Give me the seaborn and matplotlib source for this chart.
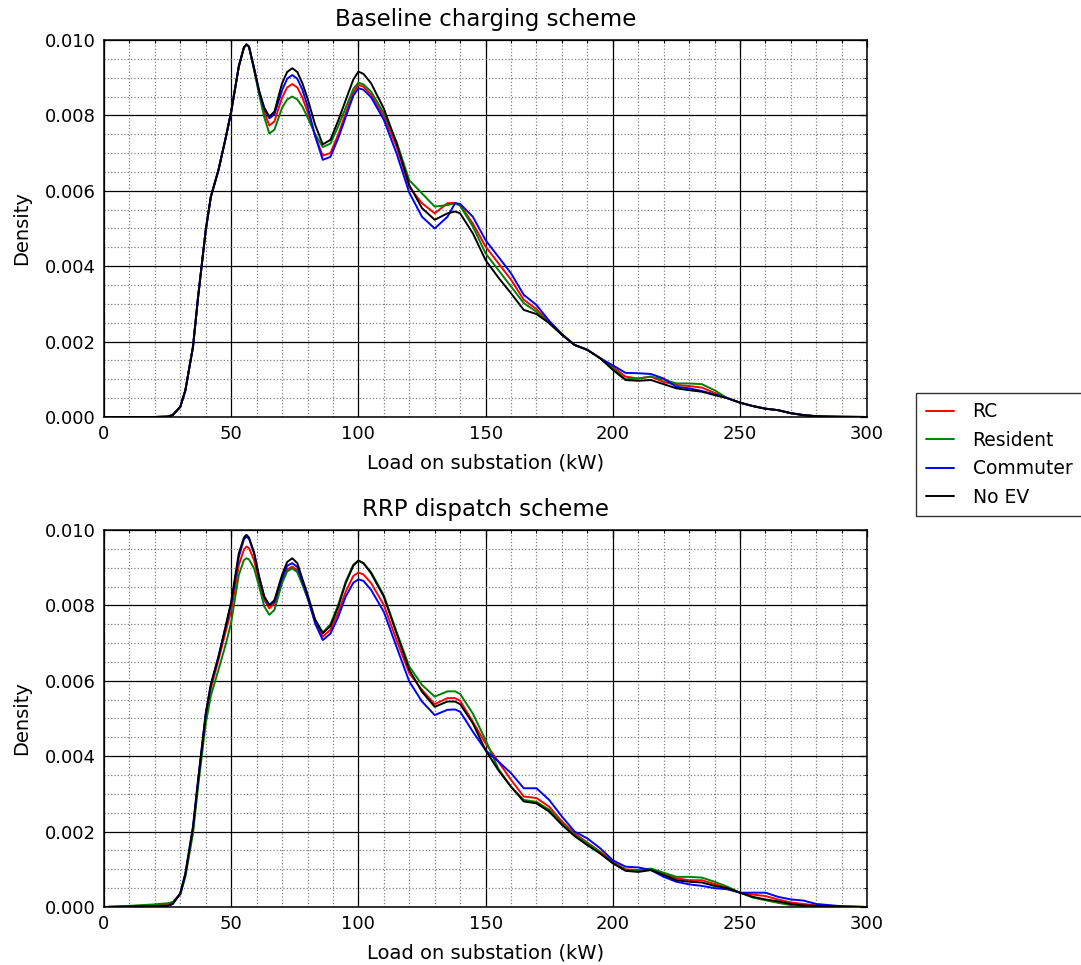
import numpy as np
import pandas as pd
import matplotlib
matplotlib.use("Agg")
import matplotlib.pyplot as plt
import seaborn as sns
from matplotlib.ticker import MultipleLocator, FormatStrFormatter

# --- DATA (densities in units of 1e-3) ---
load_kw = [0, 10, 20, 25, 27, 30, 32, 35, 37, 40, 42, 45, 48, 50, 53, 55, 56, 57, 59, 61,
           63, 65, 67, 70, 72, 74, 76, 78, 80, 83, 86, 89, 92, 95, 98, 100, 102, 105, 110, 115,
           120, 125, 130, 135, 138, 140, 145, 150, 155, 160, 165, 170, 175, 180, 185, 190, 195, 200, 205, 210,
           215, 220, 225, 230, 235, 240, 245, 250, 255, 260, 265, 270, 275, 280, 285, 290, 300]

base_rc = [0, 0, 0, 0.01, 0.05, 0.27, 0.71, 1.87, 3.19, 4.96, 5.84, 6.55, 7.45, 8.10, 9.30, 9.80, 9.88, 9.82, 9.22, 8.60,
           8.08, 7.73, 7.84, 8.47, 8.74, 8.83, 8.74, 8.47, 8.10, 7.45, 6.93, 7.00, 7.48, 8.05, 8.60, 8.81, 8.76, 8.55, 7.98, 7.17,
           6.10, 5.67, 5.40, 5.67, 5.68, 5.62, 5.13, 4.52, 4.08, 3.64, 3.11, 2.86, 2.52, 2.18, 1.91, 1.78, 1.56, 1.33, 1.07, 1.02,
           1.07, 0.93, 0.85, 0.82, 0.78, 0.64, 0.50, 0.38, 0.29, 0.22, 0.18, 0.10, 0.05, 0.02, 0.01, 0.005, 0]
base_resident = [0, 0, 0, 0.01, 0.05, 0.27, 0.71, 1.87, 3.19, 4.96, 5.84, 6.55, 7.45, 8.10, 9.30, 9.80, 9.88, 9.82, 9.20, 8.55,
                 7.95, 7.52, 7.62, 8.20, 8.42, 8.50, 8.42, 8.23, 7.95, 7.50, 7.16, 7.25, 7.70, 8.20, 8.70, 8.87, 8.82, 8.63, 8.06, 7.30,
                 6.28, 5.93, 5.58, 5.62, 5.67, 5.60, 5.05, 4.34, 3.90, 3.46, 3.02, 2.79, 2.49, 2.18, 1.91, 1.78, 1.56, 1.29, 1.00, 1.02,
                 1.07, 0.99, 0.89, 0.89, 0.87, 0.71, 0.50, 0.38, 0.29, 0.22, 0.18, 0.10, 0.05, 0.02, 0.01, 0.005, 0]
base_commuter = [0, 0, 0, 0.01, 0.05, 0.27, 0.71, 1.87, 3.19, 4.96, 5.84, 6.55, 7.45, 8.10, 9.30, 9.80, 9.88, 9.82, 9.25, 8.63,
                 8.17, 7.92, 8.03, 8.67, 8.97, 9.07, 8.97, 8.68, 8.25, 7.45, 6.82, 6.90, 7.38, 7.95, 8.52, 8.72, 8.68, 8.48, 7.88, 6.99,
                 5.95, 5.31, 5.00, 5.31, 5.67, 5.65, 5.31, 4.69, 4.25, 3.81, 3.24, 2.97, 2.55, 2.20, 1.91, 1.78, 1.56, 1.37, 1.17, 1.16,
                 1.14, 1.02, 0.80, 0.76, 0.69, 0.60, 0.50, 0.38, 0.29, 0.22, 0.18, 0.10, 0.05, 0.02, 0.01, 0.005, 0]
base_noev = [0, 0, 0, 0.01, 0.05, 0.27, 0.71, 1.87, 3.19, 4.96, 5.84, 6.55, 7.45, 8.10, 9.30, 9.80, 9.88, 9.82, 9.25, 8.65,
             8.20, 7.97, 8.10, 8.85, 9.15, 9.25, 9.15, 8.85, 8.45, 7.75, 7.23, 7.35, 7.85, 8.40, 8.95, 9.16, 9.10, 8.85, 8.18, 7.26,
             6.15, 5.54, 5.23, 5.40, 5.45, 5.40, 4.87, 4.16, 3.70, 3.28, 2.84, 2.73, 2.49, 2.18, 1.91, 1.78, 1.56, 1.25, 0.98, 0.96,
             0.98, 0.87, 0.76, 0.71, 0.67, 0.58, 0.50, 0.38, 0.29, 0.22, 0.18, 0.10, 0.05, 0.02, 0.01, 0.005, 0]

rrp_rc = [0, 0.02, 0.05, 0.08, 0.12, 0.36, 0.85, 2.05, 3.30, 5.05, 5.80, 6.55, 7.35, 7.85, 9.07, 9.48, 9.56, 9.52, 9.20, 8.63,
          8.14, 7.92, 8.05, 8.63, 8.95, 9.03, 8.93, 8.58, 8.20, 7.58, 7.17, 7.35, 7.80, 8.36, 8.78, 8.87, 8.82, 8.59, 8.01, 7.08,
          6.20, 5.76, 5.38, 5.54, 5.54, 5.47, 4.91, 4.34, 3.86, 3.37, 2.93, 2.89, 2.66, 2.27, 1.95, 1.71, 1.47, 1.20, 1.00, 0.98,
          0.98, 0.87, 0.76, 0.71, 0.71, 0.61, 0.52, 0.38, 0.33, 0.29, 0.20, 0.12, 0.08, 0.04, 0.02, 0.01, 0]
rrp_resident = [0, 0.03, 0.07, 0.10, 0.13, 0.33, 0.80, 1.96, 3.20, 4.87, 5.60, 6.29, 7.00, 7.55, 8.81, 9.20, 9.25, 9.22, 8.98, 8.50,
                7.97, 7.75, 7.88, 8.59, 8.90, 8.98, 8.88, 8.55, 8.20, 7.62, 7.28, 7.50, 8.00, 8.63, 9.08, 9.19, 9.12, 8.88, 8.27, 7.30,
                6.38, 5.89, 5.58, 5.72, 5.72, 5.65, 5.13, 4.43, 3.67, 3.19, 2.84, 2.79, 2.58, 2.22, 1.91, 1.69, 1.45, 1.17, 0.98, 0.98,
                1.02, 0.91, 0.80, 0.80, 0.78, 0.67, 0.54, 0.38, 0.25, 0.18, 0.11, 0.05, 0.03, 0.02, 0.01, 0.01, 0]
rrp_commuter = [0, 0.01, 0.02, 0.03, 0.08, 0.36, 0.89, 2.13, 3.37, 5.13, 5.90, 6.64, 7.48, 8.05, 9.29, 9.75, 9.82, 9.77, 9.38, 8.75,
                8.23, 8.00, 8.10, 8.72, 9.05, 9.12, 9.02, 8.62, 8.22, 7.52, 7.08, 7.25, 7.68, 8.23, 8.60, 8.69, 8.65, 8.41, 7.83, 6.90,
                5.98, 5.45, 5.09, 5.23, 5.24, 5.18, 4.65, 4.16, 3.86, 3.55, 3.15, 3.15, 2.84, 2.40, 2.00, 1.82, 1.56, 1.24, 1.07, 1.05,
                0.98, 0.80, 0.67, 0.60, 0.56, 0.50, 0.47, 0.38, 0.38, 0.38, 0.27, 0.20, 0.17, 0.08, 0.05, 0.02, 0]
rrp_noev = [0, 0.01, 0.02, 0.03, 0.08, 0.36, 0.89, 2.13, 3.37, 5.13, 5.90, 6.64, 7.50, 8.10, 9.38, 9.80, 9.87, 9.80, 9.40, 8.75,
            8.23, 8.01, 8.14, 8.81, 9.15, 9.25, 9.12, 8.70, 8.30, 7.62, 7.26, 7.45, 7.95, 8.59, 9.05, 9.19, 9.12, 8.85, 8.23, 7.26,
            6.29, 5.71, 5.31, 5.45, 5.45, 5.38, 4.87, 4.16, 3.63, 3.19, 2.80, 2.75, 2.53, 2.18, 1.88, 1.64, 1.42, 1.16, 0.96, 0.93,
            0.98, 0.85, 0.71, 0.67, 0.65, 0.56, 0.50, 0.38, 0.27, 0.20, 0.15, 0.08, 0.04, 0.03, 0.02, 0.01, 0]

series_names = ["RC", "Resident", "Commuter", "No EV"]
series_colors = ["#ff0000", "#008000", "#0000ff", "#000000"]

panels = [
    ("Baseline charging scheme", [base_rc, base_resident, base_commuter, base_noev]),
    ("RRP dispatch scheme", [rrp_rc, rrp_resident, rrp_commuter, rrp_noev]),
]


def make_frame(series_list):
    rows = []
    for name, vals in zip(series_names, series_list):
        rows.append(pd.DataFrame({"load": load_kw,
                                  "density": np.array(vals) * 1e-3,
                                  "scenario": name}))
    return pd.concat(rows, ignore_index=True)


# --- STYLE ---
sns.set_style("white")
plt.rcParams["font.family"] = ["DejaVu Sans"]
plt.rcParams["xtick.direction"] = "in"
plt.rcParams["ytick.direction"] = "in"
for key in ["text.color", "axes.labelcolor", "xtick.color", "ytick.color"]:
    plt.rcParams[key] = "black"

fig = plt.figure(figsize=(10.81, 9.65), dpi=100, facecolor="white")
axes = [fig.add_axes([0.0962, 0.5679, 0.706, 0.3907]),
        fig.add_axes([0.0962, 0.0601, 0.706, 0.3907])]

palette = dict(zip(series_names, series_colors))

for ax, (title, series_list) in zip(axes, panels):
    df = make_frame(series_list)
    sns.lineplot(data=df, x="load", y="density", hue="scenario",
                 hue_order=series_names, palette=palette,
                 linewidth=1.4, ax=ax, legend=False, estimator=None, sort=False)

    ax.set_xlim(0, 300)
    ax.set_ylim(0, 0.010)
    ax.xaxis.set_major_locator(MultipleLocator(50))
    ax.xaxis.set_minor_locator(MultipleLocator(10))
    ax.yaxis.set_major_locator(MultipleLocator(0.002))
    ax.yaxis.set_minor_locator(MultipleLocator(0.0005))
    ax.yaxis.set_major_formatter(FormatStrFormatter("%.3f"))

    ax.grid(which="major", color="black", linestyle="-", linewidth=0.9)
    ax.grid(which="minor", color="0.5", linestyle=":", linewidth=0.9)
    ax.set_axisbelow(True)

    ax.tick_params(which="both", top=True, right=True, labelsize=13, pad=6)
    ax.tick_params(which="major", length=5, width=0.9)
    ax.tick_params(which="minor", length=2.5, width=0.7)
    for sp in ax.spines.values():
        sp.set_color("black")
        sp.set_linewidth(1.1)

    ax.set_title(title, fontsize=16.5, pad=10)
    ax.set_xlabel("Load on substation (kW)", fontsize=14, labelpad=7)
    ax.set_ylabel("Density", fontsize=14, labelpad=10)

# --- LEGEND (shared, right of the panels) ---
handles = [plt.Line2D([0], [0], color=c, linewidth=1.4) for c in series_colors]
fig.legend(handles, series_names, loc="center left",
           bbox_to_anchor=(0.839, 0.529), fontsize=13.5,
           frameon=True, fancybox=False, edgecolor="black",
           borderpad=0.5, handlelength=1.5, handletextpad=1.0, labelspacing=0.5)

plt.savefig("out.png", dpi=100, facecolor="white")
